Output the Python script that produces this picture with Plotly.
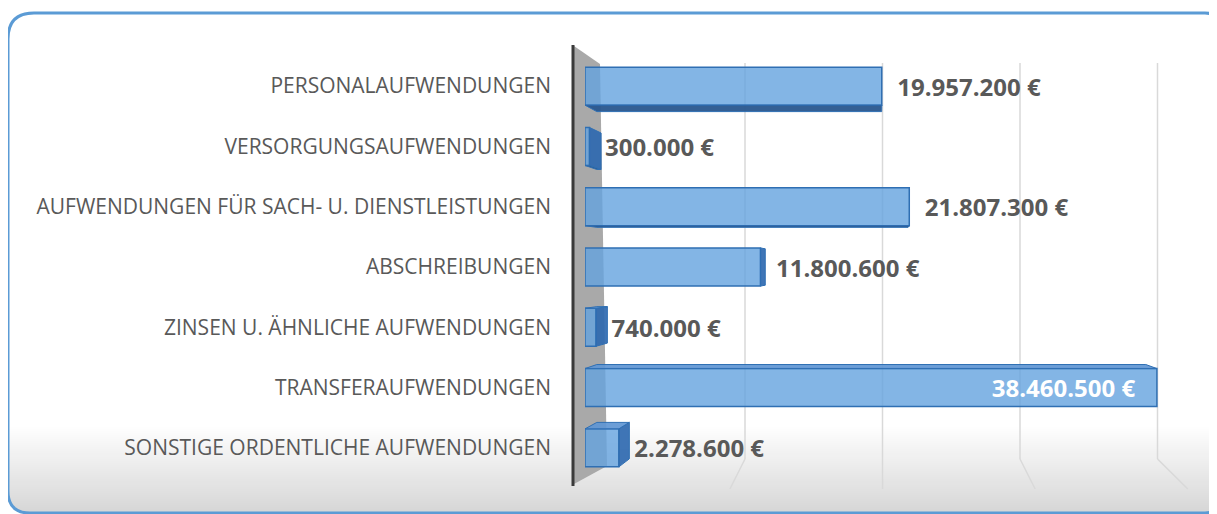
import math
import plotly.graph_objects as go

# ---------------- data ----------------
categories = [
    "PERSONALAUFWENDUNGEN",
    "VERSORGUNGSAUFWENDUNGEN",
    "AUFWENDUNGEN FÜR SACH- U. DIENSTLEISTUNGEN",
    "ABSCHREIBUNGEN",
    "ZINSEN U. ÄHNLICHE AUFWENDUNGEN",
    "TRANSFERAUFWENDUNGEN",
    "SONSTIGE ORDENTLICHE AUFWENDUNGEN",
]
values = [19957200, 300000, 21807300, 11800600, 740000, 38460500, 2278600]
label_positions = ["outside", "outside", "outside", "outside", "outside", "inside", "outside"]
grid_ticks = [10_000_000, 20_000_000, 30_000_000, 40_000_000]

# ---------------- layout geometry (screen pixels of the reference) ----------------
OFF = 8                    # the html body margin shifts the figure by 8 px
W, H = 1217 - OFF, 514 - OFF
L, R = 585, 1190           # plot area left / right (screen px)
T, B = 56, 478             # plot area top / bottom (screen px)
PW, PH = R - L, B - T
BAR_W = 0.63

def px(x):
    return (x - L) / PW

def py(y):
    return (B - y) / PH

GREY_TXT = "#595959"
BAR_FILL = "rgba(100,163,223,0.80)"
BAR_LINE = "#2f6fb3"
NB = "\u00a0"

xmax = PW / 14.87 * 1e6          # primary value axis range
g0, gstep = 607.5, 13.75          # back-wall axis: px of 0 and px per million
x2min = (L - g0) / gstep * 1e6
x2max = (R - g0) / gstep * 1e6

def x_to_px(v):                    # primary axis scale
    return L + v / xmax * PW

def px_to_x(p):
    return (p - L) / PW * xmax

templates = [
    ("%{x:,.0f} €" + NB * 3) if p == "inside" else (NB * 2 + "%{x:,.0f} €")
    for p in label_positions
]

fig = go.Figure()

fig.add_trace(go.Bar(
    y=categories,
    x=values,
    orientation="h",
    width=BAR_W,
    marker=dict(color=BAR_FILL, line=dict(color=BAR_LINE, width=1.5)),
    texttemplate=templates,
    textposition=label_positions,
    insidetextanchor="end",
    insidetextfont=dict(family="Open Sans", size=24, color="white", weight="bold"),
    outsidetextfont=dict(family="Open Sans", size=24, color=GREY_TXT, weight="bold"),
    constraintext="none",
    cliponaxis=False,
    hoverinfo="skip",
))

# ---------------- decorative shapes ----------------
shapes = []

# bottom gradient inside the frame
fx0, fx1, fy0, fy1 = 8, 1219, 13, 513
rbl, rbr = 22, 14
g_top, g_bot = 425, fy1
n = 44
for i in range(n):
    y0 = g_top + (g_bot - g_top) * i / n
    y1 = g_top + (g_bot - g_top) * (i + 1) / n
    yc = (y0 + y1) / 2
    t = (i + 0.5) / n
    c = int(round(255 - t * (255 - 214)))
    xl, xr = fx0 + 1, fx1 - 1
    if yc > fy1 - rbl:
        dy = yc - (fy1 - rbl)
        xl = fx0 + rbl - math.sqrt(max(rbl**2 - dy**2, 0))
    if yc > fy1 - rbr:
        dy = yc - (fy1 - rbr)
        xr = fx1 - rbr + math.sqrt(max(rbr**2 - dy**2, 0))
    shapes.append(dict(type="rect", xref="paper", yref="paper",
                       x0=px(xl), x1=px(xr), y0=py(y1 + 0.5), y1=py(y0),
                       fillcolor=f"rgb({c},{c},{c})", line=dict(width=0),
                       layer="below"))

# gridlines on the back wall (x2 scale) with their perspective floor part
GRID_C = "#d9d9d9"
for tv in grid_ticks:
    shapes.append(dict(type="line", xref="x2", yref="paper",
                       x0=tv, x1=tv, y0=py(459), y1=py(63),
                       line=dict(color=GRID_C, width=1.5), layer="below"))
    gx = g0 + tv / 1e6 * gstep
    ex = gx + (gx - 882) * 0.11
    shapes.append(dict(type="line", xref="paper", yref="paper",
                       x0=px(gx), y0=py(459), x1=px(ex), y1=py(489),
                       line=dict(color=GRID_C, width=1.5), layer="below"))

# wall (grey side panel)
wall = (f"M {px(574)},{py(46)} L {px(600)},{py(64)} L {px(607)},{py(466)} "
        f"L {px(574)},{py(484)} Z")
shapes.append(dict(type="path", xref="paper", yref="paper", path=wall,
                   fillcolor="#a9a9a9", line=dict(width=0), layer="below"))
shapes.append(dict(type="line", xref="paper", yref="paper",
                   x0=px(573), x1=px(573), y0=py(45), y1=py(486),
                   line=dict(color="#3a3a3a", width=3), layer="below"))

# 3-D depth faces of the bars (perspective towards a vanishing point)
VX, VY, K = 880.0, 267.0, 0.04
S = PH / len(categories)
HALF = BAR_W * S / 2

def back(p, q):
    return p + K * (VX - p), q + K * (VY - q)

def face(pts, color):
    d = "M " + " L ".join(f"{px_to_x(a)},{py(b)}" for a, b in pts) + " Z"
    return dict(type="path", xref="x", yref="paper", path=d,
                fillcolor=color, line=dict(color=BAR_LINE, width=1),
                layer="above")

for i, v in enumerate(values):
    yc = T + (i + 0.5) * S
    yt, yb = yc - HALF, yc + HALF
    xs, xe = x_to_px(0), x_to_px(v)
    if xe < VX:    # right side face visible
        bt, bb = back(xe, yt), back(xe, yb)
        shapes.append(face([(xe, yt), bt, bb, (xe, yb)], "rgba(47,105,176,0.92)"))
    if yb < VY:    # underside visible
        b1, b2 = back(xs, yb), back(xe, yb)
        shapes.append(face([(xs, yb), (xe, yb), b2, b1], "rgba(40,86,142,0.95)"))
    if yt > VY:    # top face visible
        b1, b2 = back(xs, yt), back(xe, yt)
        shapes.append(face([(xs, yt), (xe, yt), b2, b1], "rgba(96,150,212,0.92)"))

# rounded blue frame
rtl, rtr = 26, 14
frame = (
    f"M {px(fx0 + rtl)},{py(fy0)} L {px(fx1 - rtr)},{py(fy0)} "
    f"Q {px(fx1)},{py(fy0)} {px(fx1)},{py(fy0 + rtr)} "
    f"L {px(fx1)},{py(fy1 - rbr)} Q {px(fx1)},{py(fy1)} {px(fx1 - rbr)},{py(fy1)} "
    f"L {px(fx0 + rbl)},{py(fy1)} Q {px(fx0)},{py(fy1)} {px(fx0)},{py(fy1 - rbl)} "
    f"L {px(fx0)},{py(fy0 + rtl)} Q {px(fx0)},{py(fy0)} {px(fx0 + rtl)},{py(fy0)} Z"
)
shapes.append(dict(type="path", xref="paper", yref="paper", path=frame,
                   line=dict(color="#5b9bd5", width=3), layer="above"))

# ---------------- axes ----------------
fig.update_layout(
    width=W, height=H,
    margin=dict(l=L - OFF, r=1217 - R, t=T - OFF, b=514 - B, pad=0),
    paper_bgcolor="white",
    plot_bgcolor="rgba(0,0,0,0)",
    separators=",.",
    showlegend=False,
    shapes=shapes,
    xaxis=dict(range=[0, xmax], showgrid=False, zeroline=False,
               showticklabels=False, showline=False, fixedrange=True),
    xaxis2=dict(range=[x2min, x2max], overlaying="x", side="bottom",
                tickvals=grid_ticks, showticklabels=False, ticks="",
                showgrid=False, zeroline=False, showline=False,
                fixedrange=True),
    yaxis=dict(categoryorder="array", categoryarray=categories,
               autorange="reversed", showgrid=False, zeroline=False,
               showline=False, ticks="", ticklabelstandoff=33,
               tickfont=dict(family="Open Sans", size=21, color=GREY_TXT),
               fixedrange=True),
    font=dict(family="Open Sans", color=GREY_TXT),
)

# an empty trace on the back-wall axis so that axis exists for the gridlines
fig.add_trace(go.Scatter(x=[], y=[], xaxis="x2", yaxis="y", hoverinfo="skip"))

fig.write_html("out.html")
